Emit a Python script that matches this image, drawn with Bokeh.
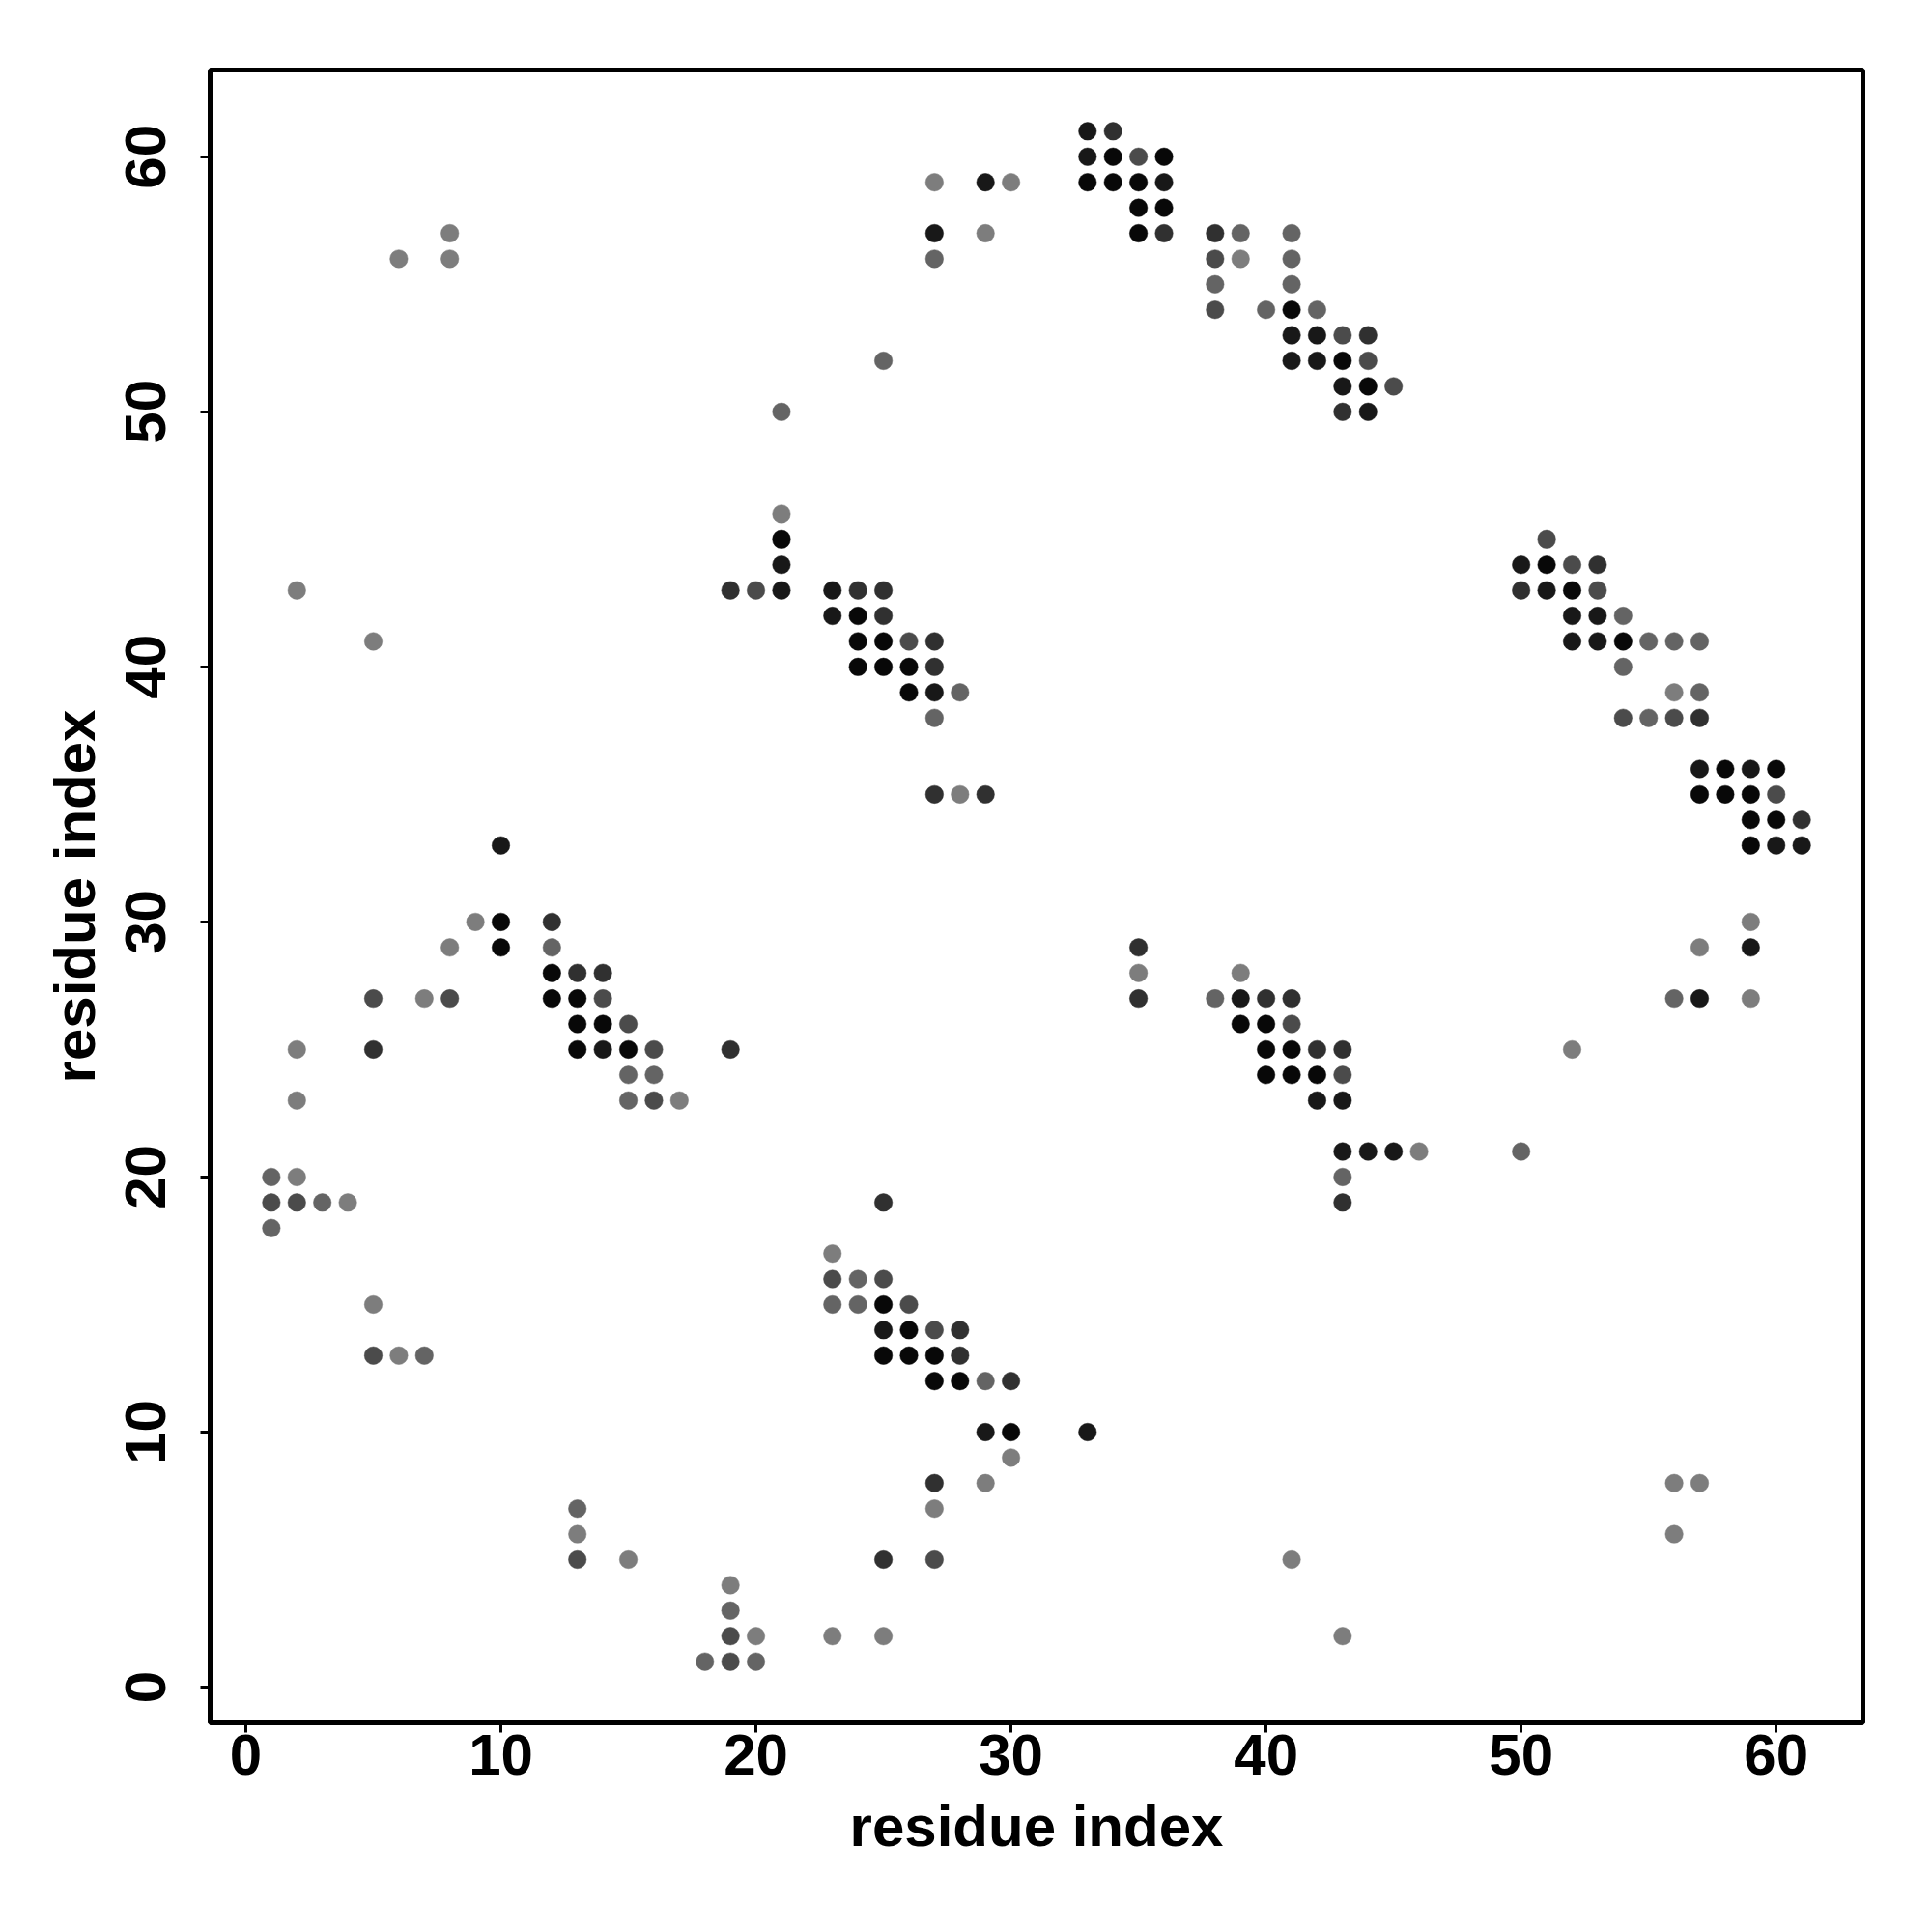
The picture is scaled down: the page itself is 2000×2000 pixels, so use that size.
import math
from bokeh.plotting import figure
from bokeh.models import Range1d, FixedTicker, ColumnDataSource
from bokeh.embed import file_html
from bokeh.resources import INLINE

# contact map: residue i (x), residue j (y), grey level of the dot (0 = black)
res_x = [
    33, 34,                                   # 61
    33, 34, 35, 36,                           # 60
    27, 29, 30, 33, 34, 35, 36,               # 59
    35, 36,                                   # 58
    8, 27, 29, 35, 36, 38, 39, 41,            # 57
    6, 8, 27, 38, 39, 41,                     # 56
    38, 41,                                   # 55
    38, 40, 41, 42,                           # 54
    41, 42, 43, 44,                           # 53
    25, 41, 42, 43, 44,                       # 52
    43, 44, 45,                               # 51
    21, 43, 44,                               # 50
    21,                                       # 46
    21, 51,                                   # 45
    21, 50, 51, 52, 53,                       # 44
    2, 19, 20, 21, 23, 24, 25, 50, 51, 52, 53,  # 43
    23, 24, 25, 52, 53, 54,                   # 42
    5, 24, 25, 26, 27, 52, 53, 54, 55, 56, 57,  # 41
    24, 25, 26, 27, 54,                       # 40
    26, 27, 28, 56, 57,                       # 39
    27, 54, 55, 56, 57,                       # 38
    57, 58, 59, 60,                           # 36
    27, 28, 29, 57, 58, 59, 60,               # 35
    59, 60, 61,                               # 34
    10, 59, 60, 61,                           # 33
    9, 10, 12, 59,                            # 30
    8, 10, 12, 35, 57, 59,                    # 29
    12, 13, 14, 35, 39,                       # 28
    5, 7, 8, 12, 13, 14, 35, 38, 39, 40, 41, 56, 57, 59,  # 27
    13, 14, 15, 39, 40, 41,                   # 26
    2, 5, 13, 14, 15, 16, 19, 40, 41, 42, 43, 52,  # 25
    15, 16, 40, 41, 42, 43,                   # 24
    2, 15, 16, 17, 42, 43,                    # 23
    43, 44, 45, 46, 50,                       # 21
    1, 2, 43,                                 # 20
    1, 2, 3, 4, 25, 43,                       # 19
    1,                                        # 18
    23,                                       # 17
    23, 24, 25,                               # 16
    5, 23, 24, 25, 26,                        # 15
    25, 26, 27, 28,                           # 14
    5, 6, 7, 25, 26, 27, 28,                  # 13
    27, 28, 29, 30,                           # 12
    29, 30, 33,                               # 10
    30,                                       # 9
    27, 29, 56, 57,                           # 8
    13, 27,                                   # 7
    13, 56,                                   # 6
    13, 15, 25, 27, 41,                       # 5
    19,                                       # 4
    19,                                       # 3
    19, 20, 23, 25, 43,                       # 2
    18, 19, 20,                               # 1
]
res_y = (
    [61] * 2 + [60] * 4 + [59] * 7 + [58] * 2 + [57] * 8 + [56] * 6 + [55] * 2
    + [54] * 4 + [53] * 4 + [52] * 5 + [51] * 3 + [50] * 3 + [46] * 1 + [45] * 2
    + [44] * 5 + [43] * 11 + [42] * 6 + [41] * 11 + [40] * 5 + [39] * 5 + [38] * 5
    + [36] * 4 + [35] * 7 + [34] * 3 + [33] * 4 + [30] * 4 + [29] * 6 + [28] * 5
    + [27] * 14 + [26] * 6 + [25] * 12 + [24] * 6 + [23] * 6 + [21] * 5 + [20] * 3
    + [19] * 6 + [18] * 1 + [17] * 1 + [16] * 3 + [15] * 5 + [14] * 4 + [13] * 7
    + [12] * 4 + [10] * 3 + [9] * 1 + [8] * 4 + [7] * 2 + [6] * 2 + [5] * 5
    + [4] * 1 + [3] * 1 + [2] * 5 + [1] * 3
)
grey = [
    24, 48,
    24, 8, 75, 8,
    125, 24, 125, 8, 8, 8, 24,
    8, 8,
    125, 24, 125, 8, 48, 48, 100, 100,
    125, 125, 100, 75, 125, 100,
    100, 100,
    75, 100, 8, 100,
    24, 24, 75, 48,
    100, 24, 24, 8, 75,
    24, 8, 75,
    100, 48, 24,
    125,
    8, 75,
    24, 24, 8, 75, 48,
    125, 48, 75, 24, 24, 48, 48, 48, 24, 8, 75,
    24, 8, 48, 24, 24, 100,
    125, 8, 8, 75, 48, 24, 24, 8, 100, 100, 100,
    8, 8, 8, 48, 100,
    8, 24, 100, 125, 100,
    100, 75, 100, 75, 48,
    24, 8, 24, 8,
    48, 125, 48, 8, 8, 8, 75,
    8, 8, 48,
    24, 8, 24, 24,
    125, 8, 48, 125,
    125, 8, 100, 48, 125, 24,
    8, 48, 48, 125, 125,
    75, 125, 75, 8, 8, 75, 48, 100, 24, 48, 48, 100, 24, 125,
    8, 8, 75, 8, 8, 75,
    125, 48, 8, 24, 8, 75, 48, 8, 8, 48, 48, 125,
    100, 100, 8, 8, 8, 75,
    125, 100, 75, 125, 24, 24,
    24, 24, 24, 125, 100,
    100, 125, 100,
    75, 75, 100, 125, 48, 48,
    100,
    125,
    75, 100, 75,
    125, 100, 100, 8, 75,
    24, 8, 75, 48,
    75, 125, 100, 8, 8, 8, 48,
    8, 8, 100, 48,
    24, 8, 24,
    125,
    48, 125, 125, 125,
    100, 125,
    125, 125,
    75, 125, 48, 75, 125,
    125,
    100,
    75, 125, 125, 125, 125,
    100, 75, 100,
]
tick_values = [0, 10, 20, 30, 40, 50, 60]
axis_title = "residue index"

colors = ["#%02x%02x%02x" % (g, g, g) for g in grey]
src = ColumnDataSource(dict(x=res_x, y=res_y, c=colors))

p = figure(
    output_backend="svg", toolbar_location=None,
    frame_width=1711, frame_height=1711,
    min_border_left=217, min_border_top=72, min_border_right=60, min_border_bottom=190,
    x_range=Range1d(-1.4, 63.4), y_range=Range1d(-1.4, 63.4),
    background_fill_color="white", border_fill_color="white",
)
p.grid.visible = False
p.outline_line_color = "black"
p.outline_line_width = 5

p.scatter("x", "y", source=src, size=18.5, fill_color="c", line_color="c", line_width=0.5)

FONT = "Liberation Sans"
for ax in (p.xaxis[0], p.yaxis[0]):
    ax.ticker = FixedTicker(ticks=tick_values)
    ax.minor_tick_line_color = None
    ax.axis_line_color = None
    ax.major_tick_in = 0
    ax.major_tick_out = 10
    ax.major_tick_line_width = 3
    ax.major_tick_line_color = "black"
    ax.major_label_text_font = FONT
    ax.major_label_text_font_style = "bold"
    ax.major_label_text_font_size = "60px"
    ax.major_label_text_color = "black"
    ax.axis_label = axis_title
    ax.axis_label_text_font = FONT
    ax.axis_label_text_font_style = "bold"
    ax.axis_label_text_font_size = "60px"
    ax.axis_label_text_color = "black"

p.xaxis[0].major_label_standoff = 2
p.xaxis[0].axis_label_standoff = 17
p.yaxis[0].major_label_orientation = "parallel"
p.yaxis[0].major_label_standoff = 36
p.yaxis[0].axis_label_standoff = 17

open("out.html", "w").write(file_html(p, INLINE))
